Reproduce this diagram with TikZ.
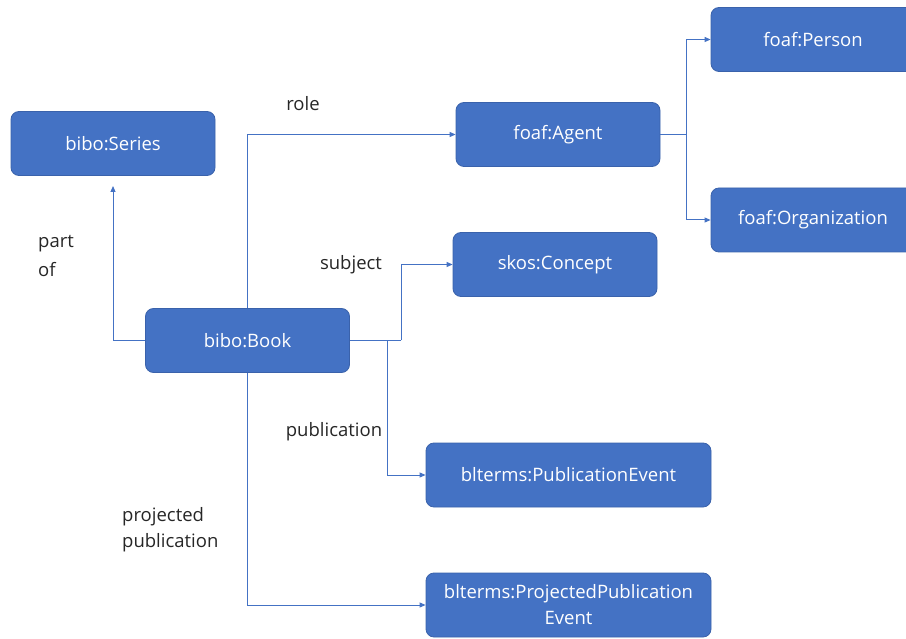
\documentclass[tikz,border=0pt]{standalone}
\usepackage{fontspec}
\setmainfont{Open Sans}
\usetikzlibrary{arrows.meta}
\definecolor{boxfill}{HTML}{4472C4}
\definecolor{boxline}{HTML}{3A62AB}
\definecolor{linkc}{HTML}{4472C4}
\definecolor{labc}{HTML}{262626}
\begin{document}
\begin{tikzpicture}[x=1pt,y=-1pt,
  cls/.style={draw=boxline,line width=0.8pt,fill=boxfill,rounded corners=8pt,text=white,
    font=\fontsize{18.5}{26}\selectfont,minimum width=204pt,minimum height=64pt,inner sep=0pt,align=center},
  wide/.style={minimum width=285pt},
  link/.style={draw=linkc,line width=1pt,-{Triangle[length=6pt,width=5pt]}},
  plain/.style={draw=linkc,line width=1pt},
  lab/.style={text=labc,font=\fontsize{18.5}{26}\selectfont,inner sep=0pt}]
\useasboundingbox (0,0) rectangle (906,639);
\clip (0,0) rectangle (906,639);
\node[cls] (series) at (113,143.5) {bibo:Series};
\node[cls] (book) at (247.5,340.5) {bibo:Book};
\node[cls] (agent) at (558,134.5) {foaf:Agent};
\node[cls] (person) at (813,39.5) {foaf:Person};
\node[cls] (org) at (813,220) {foaf:Organization};
\node[cls] (concept) at (555,264.5) {skos:Concept};
\node[cls,wide] (pub) at (568.5,475) {blterms:PublicationEvent};
\node[cls,wide] (proj) at (568.5,605) {blterms:ProjectedPublication\\Event};
% connectors
\coordinate (sj) at (113,186);
\draw[link] (book.west) -| (sj);
\draw[link] (book.north) |- (agent.west);
\coordinate (aj) at (686,134.5);
\draw[plain] (agent.east) -- (aj);
\draw[link] (aj) |- (person.west);
\draw[link] (aj) |- (org.west);
\coordinate (cj) at (401,340.5);
\coordinate (pj) at (387,340.5);
\draw[plain] (book.east) -- (cj);
\draw[link] (cj) |- (concept.west);
\draw[link] (pj) |- (pub.west);
\draw[link] (book.south) |- (proj.west);
% labels
\node[lab] (lrole) at (303,104) {role};
\node[lab,anchor=west] (lpart1) at (38,244) {part};
\node[lab,anchor=west] (lpart2) at (38,270) {of};
\node[lab] (lsubj) at (351,265) {subject};
\node[lab] (lpub) at (334,432) {publication};
\node[lab,anchor=west] (lproj1) at (122,517) {projected};
\node[lab,anchor=west] (lproj2) at (122,543) {publication};
\end{tikzpicture}
\end{document}
